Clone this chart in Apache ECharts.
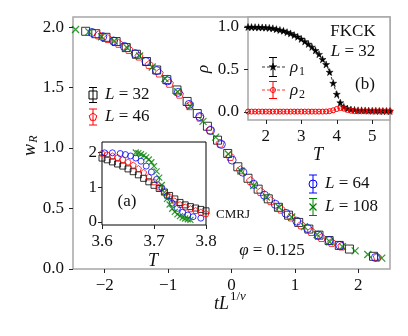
<!DOCTYPE html>
<html><head><meta charset="utf-8">
<script src="https://cdn.jsdelivr.net/npm/echarts@6/dist/echarts.min.js"></script>
<style>html,body{margin:0;padding:0;background:#fff}#c{width:408px;height:336px}</style>
</head><body><div id="c"></div>
<script>
// ---------- Main panel: w_R vs t L^{1/nu} ----------
const xL32 = [-2.3,-2.14,-1.98,-1.82,-1.66,-1.5,-1.34,-1.18,-1.02,-0.86,-0.7,-0.54,-0.38,-0.22,-0.06,0.1,0.26,0.42,0.58,0.74,0.9,1.06,1.22,1.38,1.54,1.7,1.86,2.24];
const wL32 = [1.965,1.945,1.915,1.88,1.83,1.775,1.715,1.645,1.565,1.48,1.385,1.285,1.18,1.065,0.955,0.845,0.75,0.66,0.58,0.51,0.445,0.385,0.33,0.28,0.235,0.195,0.165,0.105];
const xL46 = [-2.1,-1.95,-1.78,-1.62,-1.46,-1.3,-1.14,-0.98,-0.82,-0.66,-0.5,-0.34,-0.18,-0.02,0.14,0.3,0.46,0.62,0.78,0.94,1.1,1.26,1.42,1.58,1.74,2.3];
const wL46 = [1.935,1.905,1.865,1.815,1.76,1.69,1.62,1.535,1.445,1.35,1.255,1.15,1.04,0.93,0.82,0.73,0.64,0.565,0.495,0.43,0.365,0.31,0.26,0.22,0.19,0.1];
const xL64 = [-2.2,-2.03,-1.86,-1.69,-1.52,-1.35,-1.18,-1.01,-0.84,-0.67,-0.5,-0.33,-0.16,0.01,0.18,0.35,0.52,0.69,0.86,1.03,1.2,1.37,1.54,1.71,2.27];
const wL64 = [1.955,1.92,1.885,1.84,1.78,1.715,1.64,1.555,1.46,1.36,1.26,1.145,1.03,0.9,0.8,0.7,0.61,0.535,0.46,0.395,0.335,0.28,0.235,0.195,0.095];
const xL108 = [-2.46,-2.25,-2.05,-1.85,-1.65,-1.45,-1.25,-1.05,-0.85,-0.65,-0.45,-0.25,-0.05,0.15,0.35,0.55,0.75,0.95,1.15,1.35,1.55,1.75,1.95,2.15,2.37];
const wL108 = [1.98,1.96,1.92,1.885,1.83,1.76,1.67,1.575,1.465,1.345,1.22,1.09,0.95,0.81,0.69,0.595,0.51,0.43,0.35,0.285,0.225,0.185,0.15,0.12,0.09];
const mainXTicks = [-2,-1,0,1,2];
const mainYTicks = [0,0.5,1,1.5,2];

// ---------- Inset (a): w_R vs T ----------
const aT32 = [3.60,3.61,3.62,3.63,3.64,3.65,3.66,3.67,3.68,3.69,3.70,3.71,3.72,3.73,3.74,3.75,3.76,3.77,3.78,3.79,3.80];
const aW32 = [1.83,1.78,1.72,1.66,1.6,1.52,1.44,1.35,1.25,1.15,1.05,0.96,0.86,0.76,0.66,0.56,0.49,0.44,0.4,0.36,0.32];
const aT46 = [3.60,3.61,3.62,3.63,3.64,3.65,3.66,3.67,3.68,3.69,3.70,3.71,3.72,3.73,3.74,3.75,3.76,3.77,3.78,3.79,3.80];
const aW46 = [1.97,1.93,1.89,1.85,1.79,1.72,1.63,1.53,1.42,1.29,1.15,1.0,0.86,0.73,0.6,0.5,0.43,0.38,0.33,0.28,0.24];
const aT64 = [3.605,3.62,3.635,3.645,3.655,3.665,3.675,3.685,3.695,3.705,3.715,3.725,3.735,3.745,3.755,3.765,3.775,3.79];
const aW64 = [1.98,1.98,1.96,1.93,1.89,1.83,1.74,1.6,1.43,1.22,0.98,0.74,0.54,0.39,0.28,0.2,0.15,0.11];
const aT108 = [3.665,3.67,3.675,3.68,3.685,3.69,3.695,3.70,3.705,3.71,3.715,3.72,3.725,3.73,3.735,3.74,3.745,3.75,3.755,3.76,3.765,3.77];
const aW108 = [1.99,1.97,1.94,1.9,1.85,1.79,1.71,1.6,1.45,1.27,1.06,0.85,0.66,0.5,0.38,0.29,0.22,0.17,0.13,0.1,0.08,0.06];
const aTTicks = [3.6,3.7,3.8];
const aWTicks = [0,1,2];

// ---------- Inset (b): rho vs T ----------
const bT = [1.5,1.6,1.7,1.8,1.9,2.0,2.1,2.2,2.3,2.4,2.5,2.6,2.7,2.8,2.9,3.0,3.1,3.2,3.3,3.4,3.5,3.6,3.7,3.8,3.9,4.0,4.1,4.2,4.3,4.4,4.5,4.6,4.7,4.8,4.9,5.0,5.1,5.2,5.3,5.4,5.5];
const rho1 = [1.0,0.999,0.998,0.997,0.995,0.993,0.99,0.985,0.975,0.965,0.955,0.94,0.925,0.905,0.885,0.86,0.83,0.8,0.765,0.725,0.68,0.62,0.56,0.47,0.34,0.21,0.11,0.06,0.04,0.03,0.025,0.02,0.02,0.018,0.016,0.015,0.014,0.013,0.012,0.012,0.011];
const rho2 = [0.005,0.005,0.005,0.005,0.005,0.005,0.005,0.005,0.005,0.005,0.005,0.005,0.005,0.005,0.005,0.005,0.005,0.005,0.005,0.005,0.005,0.005,0.006,0.01,0.02,0.035,0.048,0.04,0.025,0.015,0.01,0.008,0.008,0.008,0.008,0.008,0.008,0.008,0.008,0.008,0.008];
const bTTicks = [2,3,4,5];
const bRhoTicks = [0,0.5,1];
const bRhoOuterLabels = [0,1];
const bRhoMidLabels = [0.5];

const zip = (a, b) => a.map((v, i) => [v, b[i]]);
const FONT = 'Liberation Serif';
const FS = 17;
const GRAY = '#a6a6a6';
const PENT = 'path://M50,0 L97.6,34.5 L79.4,90.5 L20.6,90.5 L2.4,34.5 Z';
const XMARK = 'path://M0,0 L10,10 M10,0 L0,10';
const STAR = 'path://M50,0 L61.2,34.5 L97.6,34.5 L68.2,55.9 L79.4,90.5 L50,69.1 L20.6,90.5 L31.8,55.9 L2.4,34.5 L38.8,34.5 Z';

function axisCommon(ticks, fmt, margin, labelVals) {
  return {
    axisLine: {show: false, onZero: false},
    splitLine: {show: false},
    axisTick: {show: true, length: 4, customValues: ticks, lineStyle: {color: '#222', width: 1}},
    axisLabel: {customValues: labelVals || ticks, formatter: fmt, margin: margin,
      fontFamily: FONT, fontSize: FS, color: '#111'}
  };
}
const minusFmt = v => (v < 0 ? '\u2212' + Math.abs(v) : String(v));
const f1 = v => v.toFixed(1);

function openScatter(data, sym, size, color, gi, bw) {
  return {type: 'scatter', xAxisIndex: gi, yAxisIndex: gi, data: data, symbol: sym, symbolSize: size,
    itemStyle: {color: 'rgba(0,0,0,0)', borderColor: color, borderWidth: bw || 1}, z: 3};
}

// graphic helpers (legends & annotations)
const G = [];
function txt(x, y, text, size, opts) {
  G.push(Object.assign({type: 'text', x: x, y: y, z: 10, silent: true, style: Object.assign({text: text, fontFamily: FONT, fontSize: size, fill: '#111', align: 'center', verticalAlign: 'middle', rich: {i: {fontStyle: 'italic', fontFamily: FONT, fontSize: size}}}, (opts && opts.style) || {})}, (opts && opts.el) || {}));
}
function line(x1, y1, x2, y2, color, w, dash) {
  G.push({type: 'line', z: 10, silent: true, shape: {x1, y1, x2, y2}, style: {stroke: color, lineWidth: w || 1, lineDash: dash || null}});
}
function errbar(x, yc, h, color) {
  line(x, yc - h, x, yc + h, color, 1);
  line(x - 4, yc - h, x + 4, yc - h, color, 1);
  line(x - 4, yc + h, x + 4, yc + h, color, 1);
}
function marker(kind, x, y, color) {
  if (kind === 'square') G.push({type: 'rect', z: 11, shape: {x: x - 4, y: y - 4, width: 8, height: 8}, style: {fill: 'none', stroke: color, lineWidth: 1}});
  if (kind === 'circle') G.push({type: 'circle', z: 11, shape: {cx: x, cy: y, r: 4}, style: {fill: 'none', stroke: color, lineWidth: 1}});
  if (kind === 'smallcircle') G.push({type: 'circle', z: 11, shape: {cx: x, cy: y, r: 2.5}, style: {fill: 'none', stroke: color, lineWidth: 1}});
  if (kind === 'pent') {
    const pts = [];
    for (let k = 0; k < 5; k++) { const a = -Math.PI / 2 + k * 2 * Math.PI / 5; pts.push([x + 4 * Math.cos(a), y + 4 * Math.sin(a)]); }
    G.push({type: 'polygon', z: 11, shape: {points: pts}, style: {fill: 'none', stroke: color, lineWidth: 1}});
  }
  if (kind === 'x') { line(x - 3.5, y - 3.5, x + 3.5, y + 3.5, color, 1.2); line(x + 3.5, y - 3.5, x - 3.5, y + 3.5, color, 1.2); }
  if (kind === 'star') {
    const pts = [];
    for (let k = 0; k < 10; k++) { const a = -Math.PI / 2 + k * Math.PI / 5; const r = k % 2 ? 1.6 : 4; pts.push([x + r * Math.cos(a), y + r * Math.sin(a)]); }
    G.push({type: 'polygon', z: 11, shape: {points: pts}, style: {fill: color, stroke: color, lineWidth: 0.5}});
  }
}

// main legend
errbar(93, 95, 7.5, '#000'); marker('square', 93, 95, '#000'); txt(105, 95, '{i|L} = 32', FS, {style: {align: 'left'}});
errbar(93, 117, 8, '#ff0000'); marker('pent', 93, 117, '#ff0000'); txt(105, 117, '{i|L} = 46', FS, {style: {align: 'left'}});
errbar(313, 184, 9, '#0000ff'); marker('circle', 313, 184, '#0000ff'); txt(325, 184, '{i|L} = 64', FS, {style: {align: 'left'}});
errbar(313, 207, 8.5, '#008000'); marker('x', 313, 207, '#008000'); txt(325, 207, '{i|L} = 108', FS, {style: {align: 'left'}});

// inset (b) legend
line(262, 67, 285, 67, '#000', 0.8, [3, 2]); errbar(273, 67, 9.5, '#000'); marker('star', 273, 67, '#000');
txt(290, 68, '{i|\u03C1}', FS, {style: {align: 'left'}}); txt(299, 72, '1', 12, {style: {align: 'left'}});
line(262, 90, 285, 90, '#ff0000', 0.8, [3, 2]); errbar(273, 90, 8.5, '#ff0000'); marker('smallcircle', 273, 90, '#ff0000');
txt(290, 91, '{i|\u03C1}', FS, {style: {align: 'left'}}); txt(299, 95, '2', 12, {style: {align: 'left'}});

// annotations
txt(353, 32, 'FKCK', FS);
txt(353, 52, '{i|L} = 32', FS);
txt(365, 85, '(b)', FS);
txt(127, 202, '(a)', FS);
txt(233, 215, 'CMRJ', 13);
txt(272, 251, '{i|\u03C6} = 0.125', FS);
// axis titles
txt(153, 261, '{i|T}', 18);
txt(318, 155, '{i|T}', 18);
txt(204, 69, '\u03C1', 17, {el: {rotation: Math.PI / 2}, style: {fontStyle: 'italic', rich: null}});
txt(30, 150, '{i|w}', 18, {el: {rotation: Math.PI / 2}});
txt(34, 139, '{i|R}', 12, {el: {rotation: Math.PI / 2}});
txt(229, 304, '{i|tL}', 18, {style: {align: 'right'}});
txt(230, 297, '1/{i|\u03BD}', 13, {style: {align: 'left'}});

// second rho axis on the same inset carries only the middle label
const yBMid = axisCommon(bRhoTicks, f1, 9, bRhoMidLabels);
yBMid.axisTick = {show: false};

const option = {
  animation: false,
  backgroundColor: '#fff',
  grid: [
    {left: 73, top: 17, width: 317, height: 252, show: true, borderColor: GRAY, borderWidth: 1.5, backgroundColor: '#fff', z: 0},
    {left: 102, top: 142, width: 104, height: 83, show: true, borderColor: '#000', borderWidth: 1, backgroundColor: '#fff', z: 4},
    {left: 248, top: 17, width: 142, height: 103, show: true, borderColor: GRAY, borderWidth: 1.5, backgroundColor: '#fff', z: 4}
  ],
  xAxis: [
    Object.assign({type: 'value', gridIndex: 0, min: -2.5, max: 2.5}, axisCommon(mainXTicks, minusFmt, 8)),
    Object.assign({type: 'value', gridIndex: 1, min: 3.6, max: 3.8}, axisCommon(aTTicks, f1, 8), {z: 5}),
    Object.assign({type: 'value', gridIndex: 2, min: 1.5, max: 5.5}, axisCommon(bTTicks, v => String(v), 8), {z: 5})
  ],
  yAxis: [
    Object.assign({type: 'value', gridIndex: 0, min: 0, max: 2.083}, axisCommon(mainYTicks, f1, 9)),
    Object.assign({type: 'value', gridIndex: 1, min: -0.086, max: 2.29}, axisCommon(aWTicks, v => String(v), 5), {z: 5}),
    Object.assign({type: 'value', gridIndex: 2, min: -0.094, max: 1.118, position: 'left'}, axisCommon(bRhoTicks, f1, 9, bRhoOuterLabels), {z: 5}),
    Object.assign({type: 'value', gridIndex: 2, min: -0.094, max: 1.118, position: 'left', offset: 0}, yBMid, {z: 5})
  ],
  series: [
    openScatter(zip(xL32, wL32), 'rect', 8, '#000', 0),
    openScatter(zip(xL46, wL46), PENT, 8, '#ff0000', 0),
    openScatter(zip(xL64, wL64), 'circle', 8, '#0000ff', 0),
    openScatter(zip(xL108, wL108), XMARK, 7, '#008000', 0, 1.3),

    Object.assign(openScatter(zip(aT32, aW32), 'rect', 6, '#000', 1), {z: 6}),
    Object.assign(openScatter(zip(aT46, aW46), PENT, 6, '#ff0000', 1), {z: 6}),
    Object.assign(openScatter(zip(aT64, aW64), 'circle', 6, '#0000ff', 1), {z: 6}),
    Object.assign(openScatter(zip(aT108, aW108), XMARK, 6, '#008000', 1, 1.2), {z: 6}),

    {type: 'line', xAxisIndex: 2, yAxisIndex: 2, data: zip(bT, rho1), symbol: STAR, symbolSize: 7, showAllSymbol: true,
      lineStyle: {color: '#000', width: 0.8, type: [3, 2]}, itemStyle: {color: '#000', borderColor: '#000', borderWidth: 0.5}, z: 6},
    {type: 'line', xAxisIndex: 2, yAxisIndex: 2, data: zip(bT, rho2), symbol: 'circle', symbolSize: 5, showAllSymbol: true,
      lineStyle: {color: '#ff0000', width: 0.8, type: [3, 2]}, itemStyle: {color: 'rgba(0,0,0,0)', borderColor: '#ff0000', borderWidth: 1}, z: 7}
  ],
  graphic: G
};
const chart = echarts.init(document.getElementById('c'), null, {renderer: 'canvas'});
chart.setOption(option);
</script>
</body></html>
